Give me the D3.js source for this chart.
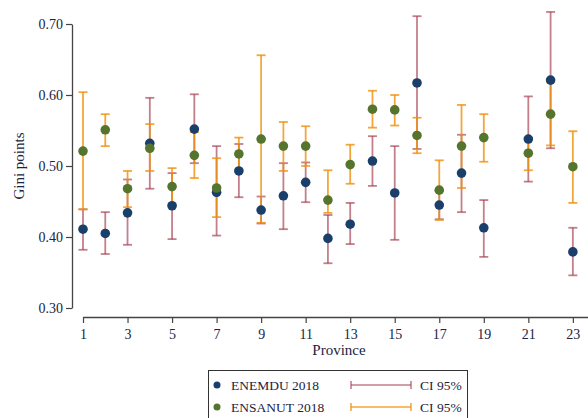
<html>
<script src="https://d3js.org/d3.v7.min.js"></script>
<style>
    body { margin: 0; background: #fff; }
    text { font-family: "Liberation Serif", "DejaVu Serif", serif; }
</style>
<svg width=588 height=418></svg>
<script>

    // provinces 1..23 (20 has no data)
    let provinces = [1, 2, 3, 4, 5, 6, 7, 8, 9, 10, 11, 12, 13, 14, 15, 16, 17, 18, 19, 21, 22, 23];

    let enemdu    = [0.411, 0.405, 0.434, 0.532, 0.444, 0.552, 0.463, 0.493, 0.438, 0.458, 0.477, 0.398, 0.418, 0.507, 0.462, 0.617, 0.445, 0.490, 0.413, 0.538, 0.621, 0.379];
    let enemduLo  = [0.382, 0.376, 0.389, 0.468, 0.397, 0.504, 0.402, 0.456, 0.419, 0.411, 0.449, 0.363, 0.390, 0.472, 0.396, 0.524, 0.425, 0.435, 0.372, 0.478, 0.525, 0.346];
    let enemduHi  = [0.439, 0.435, 0.481, 0.596, 0.490, 0.601, 0.528, 0.531, 0.457, 0.504, 0.505, 0.431, 0.448, 0.542, 0.528, 0.711, 0.465, 0.544, 0.452, 0.598, 0.717, 0.413];

    let ensanut   = [0.521, 0.551, 0.468, 0.525, 0.471, 0.515, 0.469, 0.517, 0.538, 0.528, 0.528, 0.452, 0.502, 0.580, 0.579, 0.543, 0.466, 0.528, 0.540, 0.518, 0.573, 0.499];
    let ensanutLo = [0.439, 0.528, 0.442, 0.493, 0.445, 0.483, 0.428, 0.495, 0.420, 0.493, 0.500, 0.434, 0.475, 0.554, 0.557, 0.518, 0.424, 0.469, 0.506, 0.494, 0.529, 0.448];
    let ensanutHi = [0.604, 0.573, 0.493, 0.559, 0.497, 0.548, 0.511, 0.540, 0.656, 0.562, 0.556, 0.494, 0.530, 0.606, 0.600, 0.568, 0.508, 0.586, 0.573, 0.540, 0.618, 0.549];

    let xTicks = [1, 3, 5, 7, 9, 11, 13, 15, 17, 19, 21, 23];
    let yTicks = [0.30, 0.40, 0.50, 0.60, 0.70];

    let blue = '#1a3f6b', green = '#55752f', red = '#a33a4c', orange = '#f0900a';

    let svg = d3.select('svg');

    let x = d3.scaleLinear().domain([1, 23.68]).range([83, 588]);
    let y = d3.scaleLinear().domain([0.3, 0.7]).range([308, 24]);

    // axes
    let yAxis = d3.axisLeft(y).tickValues(yTicks).tickFormat(d3.format('.2f')).tickSize(6).tickSizeOuter(0);
    let gy = svg.append('g').attr('transform', 'translate(72,0)').call(yAxis);

    let xAxis = d3.axisBottom(x).tickValues(xTicks).tickFormat(d3.format('d')).tickSize(6).tickSizeOuter(0);
    let gx = svg.append('g').attr('transform', 'translate(0,317)').call(xAxis);

    [gx, gy].forEach(g => {
        g.select('.domain').attr('stroke', '#444').attr('stroke-width', 1.3);
        g.selectAll('.tick line').attr('stroke', '#444').attr('stroke-width', 1.2);
        g.selectAll('.tick text')
            .attr('fill', '#1c2340')
            .style('font-family', '"Liberation Serif", serif')
            .style('font-size', '14px');
    });
    gx.selectAll('.tick text').attr('dy', '0.95em');

    svg.append('text')
        .attr('x', 339).attr('y', 355)
        .attr('text-anchor', 'middle')
        .attr('fill', '#1c2340')
        .style('font-size', '15px')
        .text('Province');

    svg.append('text')
        .attr('transform', 'translate(24,166) rotate(-90)')
        .attr('text-anchor', 'middle')
        .attr('fill', '#1c2340')
        .style('font-size', '15px')
        .text('Gini points');

    // error bars
    function errorBars(lo, hi, color, opacity) {
        let g = svg.append('g')
            .attr('stroke', color)
            .attr('stroke-width', 1.8)
            .attr('stroke-opacity', opacity);
        provinces.forEach((p, i) => {
            let cx = x(p);
            g.append('line').attr('x1', cx).attr('x2', cx).attr('y1', y(lo[i])).attr('y2', y(hi[i]));
            g.append('line').attr('x1', cx - 4.5).attr('x2', cx + 4.5).attr('y1', y(lo[i])).attr('y2', y(lo[i]));
            g.append('line').attr('x1', cx - 4.5).attr('x2', cx + 4.5).attr('y1', y(hi[i])).attr('y2', y(hi[i]));
        });
    }

    function dots(vals, color) {
        svg.append('g').selectAll('circle')
            .data(vals)
          .enter()
            .append('circle')
            .attr('cx', (d, i) => x(provinces[i]))
            .attr('cy', d => y(d))
            .attr('r', 4.8)
            .attr('fill', color);
    }

    errorBars(enemduLo, enemduHi, red, 0.65);
    errorBars(ensanutLo, ensanutHi, orange, 0.8);
    dots(enemdu, blue);
    dots(ensanut, green);

    // legend
    let leg = svg.append('g');
    leg.append('rect')
        .attr('x', 208.5).attr('y', 370.5)
        .attr('width', 259).attr('height', 70)
        .attr('fill', 'none').attr('stroke', '#333').attr('stroke-width', 1);

    let items = [
        { label: 'ENEMDU 2018', dot: blue, bar: red, op: 0.65 },
        { label: 'ENSANUT 2018', dot: green, bar: orange, op: 0.8 }
    ];
    items.forEach((it, i) => {
        let ly = 385 + i * 22;
        leg.append('circle').attr('cx', 217).attr('cy', ly).attr('r', 3.5).attr('fill', it.dot);
        leg.append('text').attr('x', 231).attr('y', ly).attr('dy', '0.35em')
            .attr('fill', '#1c2340').style('font-size', '13.5px').text(it.label);
        let b = leg.append('g').attr('stroke', it.bar).attr('stroke-width', 1.6).attr('stroke-opacity', it.op);
        b.append('line').attr('x1', 351).attr('x2', 411).attr('y1', ly).attr('y2', ly);
        b.append('line').attr('x1', 351).attr('x2', 351).attr('y1', ly - 4).attr('y2', ly + 4);
        b.append('line').attr('x1', 411).attr('x2', 411).attr('y1', ly - 4).attr('y2', ly + 4);
        leg.append('text').attr('x', 420).attr('y', ly).attr('dy', '0.35em')
            .attr('fill', '#1c2340').style('font-size', '13.5px').text('CI 95%');
    });

</script>
</html>
